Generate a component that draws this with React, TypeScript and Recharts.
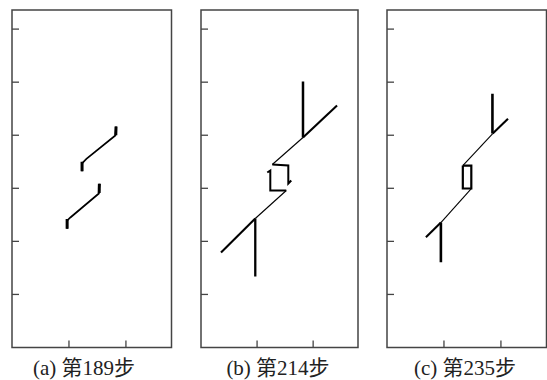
import { LineChart, Line, XAxis, YAxis, ReferenceArea, ReferenceLine } from "recharts";

type Pt = { x: number; y: number };

// shared axis ticks
const xTicks = [1, 2];
const yTicks = [1, 2, 3, 4, 5, 6];
const xMax = 2.8;
const yMax = 6.36;

// (a) step 189
const a189Upper: Pt[] = [
  { x: 1.23, y: 3.32 },
  { x: 1.23, y: 3.47 },
  { x: 1.306, y: 3.553 },
  { x: 1.814, y: 3.995 },
  { x: 1.826, y: 4.164 },
];
const a189Lower: Pt[] = [
  { x: 0.968, y: 2.237 },
  { x: 0.968, y: 2.393 },
  { x: 1.025, y: 2.45 },
  { x: 1.525, y: 2.902 },
  { x: 1.534, y: 3.085 },
];
const a189UpperEnds: Pt[][] = [
  [{ x: 1.23, y: 3.32 }, { x: 1.23, y: 3.5 }],
  [{ x: 1.822, y: 4.0 }, { x: 1.826, y: 4.164 }],
];
const a189LowerEnds: Pt[][] = [
  [{ x: 0.968, y: 2.237 }, { x: 0.968, y: 2.42 }],
  [{ x: 1.53, y: 2.91 }, { x: 1.534, y: 3.085 }],
];

// (b) step 214
const b214LowerDiag: Pt[] = [
  { x: 0.357, y: 1.79 },
  { x: 0.968, y: 2.431 },
];
const b214LowerThin: Pt[] = [
  { x: 0.968, y: 2.431 },
  { x: 1.521, y: 2.958 },
];
const b214BracketA: Pt[] = [
  { x: 1.521, y: 2.958 },
  { x: 1.236, y: 2.958 },
  { x: 1.236, y: 3.335 },
  { x: 1.182, y: 3.297 },
];
const b214BracketB: Pt[] = [
  { x: 1.272, y: 3.448 },
  { x: 1.557, y: 3.429 },
  { x: 1.557, y: 3.09 },
  { x: 1.61, y: 3.147 },
];
const b214UpperThin: Pt[] = [
  { x: 1.272, y: 3.448 },
  { x: 1.819, y: 3.957 },
];
const b214UpperDiag: Pt[] = [
  { x: 1.819, y: 3.957 },
  { x: 2.426, y: 4.56 },
];
const b214LowerBar: Pt[] = [
  { x: 0.968, y: 1.338 },
  { x: 0.968, y: 2.431 },
];
const b214UpperBar: Pt[] = [
  { x: 1.819, y: 3.957 },
  { x: 1.819, y: 5.013 },
];

// (c) step 235
const c235LowerDiag: Pt[] = [
  { x: 0.683, y: 2.078 },
  { x: 0.946, y: 2.355 },
];
const c235LowerThin: Pt[] = [
  { x: 0.946, y: 2.355 },
  { x: 1.48, y: 2.996 },
];
const c235Rect: Pt[] = [
  { x: 1.331, y: 3.429 },
  { x: 1.48, y: 3.429 },
  { x: 1.48, y: 2.996 },
  { x: 1.331, y: 2.996 },
  { x: 1.331, y: 3.429 },
];
const c235UpperThin: Pt[] = [
  { x: 1.331, y: 3.429 },
  { x: 1.856, y: 4.032 },
];
const c235UpperDiag: Pt[] = [
  { x: 1.856, y: 4.032 },
  { x: 2.124, y: 4.309 },
];
const c235LowerBar: Pt[] = [
  { x: 0.946, y: 1.607 },
  { x: 0.946, y: 2.355 },
];
const c235UpperBar: Pt[] = [
  { x: 1.851, y: 4.032 },
  { x: 1.851, y: 4.78 },
];

const captions = ["(a) 第189步", "(b) 第214步", "(c) 第235步"];

type Seg = { pts: Pt[]; w: number };

const axisColor = "#444";

function Panel({ left, width, segs }: { left: number; width: number; segs: Seg[] }) {
  const pad = 2;
  const top = 9.5;
  const height = 337.5;
  // inward tick length (7px) in data units
  const xTickLen = (7 / width) * xMax;
  const yTickLen = (7 / height) * yMax;
  return (
    <div style={{ position: "absolute", left: left - pad, top: top - pad }}>
      <LineChart
        width={width + pad * 2}
        height={height + pad * 2}
        margin={{ top: pad, right: pad, bottom: pad, left: pad }}
      >
        <XAxis
          dataKey="x"
          type="number"
          domain={[0, xMax]}
          ticks={xTicks}
          height={0}
          tick={false}
          tickLine={false}
          stroke={axisColor}
          strokeWidth={1.5}
          allowDataOverflow
        />
        <YAxis
          type="number"
          domain={[0, yMax]}
          ticks={yTicks}
          width={0}
          tick={false}
          tickLine={false}
          stroke={axisColor}
          strokeWidth={1.5}
          allowDataOverflow
        />
        <ReferenceArea
          x1={0}
          x2={xMax}
          y1={0}
          y2={yMax}
          fill="none"
          stroke={axisColor}
          strokeWidth={1.5}
          ifOverflow="visible"
        />
        {yTicks.map((t) => (
          <ReferenceLine
            key={"y" + t}
            segment={[
              { x: 0, y: t },
              { x: xTickLen, y: t },
            ]}
            stroke={axisColor}
            strokeWidth={1.3}
          />
        ))}
        {xTicks.map((t) => (
          <ReferenceLine
            key={"x" + t}
            segment={[
              { x: t, y: 0 },
              { x: t, y: yTickLen },
            ]}
            stroke={axisColor}
            strokeWidth={1.3}
          />
        ))}
        {segs.map((s, i) => (
          <Line
            key={i}
            data={s.pts}
            dataKey="y"
            type="linear"
            stroke="#000"
            strokeWidth={s.w}
            dot={false}
            activeDot={false}
            isAnimationActive={false}
          />
        ))}
      </LineChart>
    </div>
  );
}

export default function App() {
  const segsA: Seg[] = [
    { pts: a189Upper, w: 1.7 },
    { pts: a189Lower, w: 1.7 },
    ...a189UpperEnds.map((p) => ({ pts: p, w: 3 })),
    ...a189LowerEnds.map((p) => ({ pts: p, w: 3 })),
  ];
  const segsB: Seg[] = [
    { pts: b214LowerDiag, w: 2.1 },
    { pts: b214LowerThin, w: 1.1 },
    { pts: b214BracketA, w: 2 },
    { pts: b214BracketB, w: 2 },
    { pts: b214UpperThin, w: 1.1 },
    { pts: b214UpperDiag, w: 2.1 },
    { pts: b214LowerBar, w: 2.3 },
    { pts: b214UpperBar, w: 2.5 },
  ];
  const segsC: Seg[] = [
    { pts: c235LowerDiag, w: 2.1 },
    { pts: c235LowerThin, w: 1.1 },
    { pts: c235Rect, w: 2.2 },
    { pts: c235UpperThin, w: 1.1 },
    { pts: c235UpperDiag, w: 2.1 },
    { pts: c235LowerBar, w: 2.6 },
    { pts: c235UpperBar, w: 2.6 },
  ];
  const captionCenters = [84, 278, 465];
  return (
    <div
      style={{
        position: "absolute",
        left: 0,
        top: 0,
        width: 547,
        height: 380,
        overflow: "hidden",
        background: "#fff",
      }}
    >
      <Panel left={11.5} width={159.5} segs={segsA} />
      <Panel left={200.7} width={157} segs={segsB} />
      <Panel left={387} width={159.5} segs={segsC} />
      {captions.map((c, i) => (
        <div
          key={c}
          style={{
            position: "absolute",
            left: captionCenters[i] - 80,
            width: 160,
            top: 356,
            textAlign: "center",
            fontFamily: "'Liberation Serif', 'Noto Sans CJK SC', serif",
            fontSize: 21,
            lineHeight: "24px",
            color: "#222",
            whiteSpace: "nowrap",
          }}
        >
          {c}
        </div>
      ))}
    </div>
  );
}
